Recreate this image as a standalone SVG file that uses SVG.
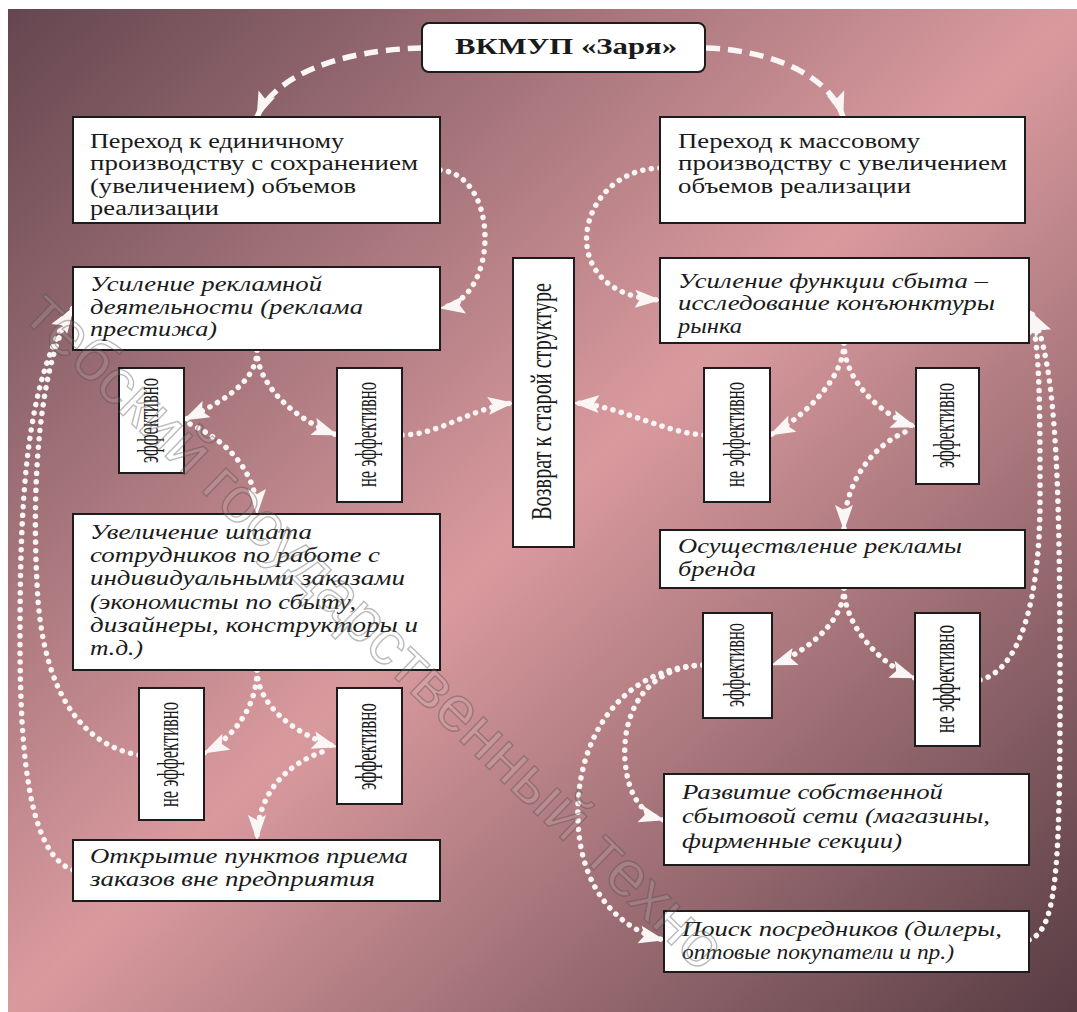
<svg xmlns="http://www.w3.org/2000/svg" width="1077" height="1012" viewBox="0 0 1077 1012">
<defs>
<linearGradient id="bg" x1="0" y1="0" x2="1" y2="1">
<stop offset="0" stop-color="#654650"/>
<stop offset="0.5" stop-color="#d99a9e"/>
<stop offset="1" stop-color="#583c44"/>
</linearGradient>
<marker id="ah" markerUnits="userSpaceOnUse" markerWidth="28" markerHeight="20" refX="25" refY="10" orient="auto" viewBox="0 0 28 20">
<path d="M0,1 L26,10 L0,19 L5,10 z" fill="#fbf6f6"/>
</marker>
<style>
.box{fill:#fff;stroke:#1c1c1c;stroke-width:2}
.t{font-family:"Liberation Serif","Times New Roman",serif;font-size:20px;fill:#1a1a1a}
.i{font-style:italic}
.b{font-weight:bold;font-size:24px}
.v{font-family:"Liberation Serif","Times New Roman",serif;font-size:30px;fill:#1a1a1a}
.dot{fill:none;stroke:#fbf6f6;stroke-width:5.5;stroke-linecap:round;stroke-dasharray:0.1 8.5;marker-end:url(#ah)}
.dash{fill:none;stroke:#fbf6f6;stroke-width:5.5;stroke-dasharray:14 8;marker-end:url(#ah)}
.wm{font-family:"Liberation Sans",Arial,sans-serif;font-size:64px;fill:#ffffff;fill-opacity:0.1;stroke:#4a4a4a;stroke-opacity:0.38;stroke-width:1.4}
</style>
</defs>
<rect x="0" y="0" width="1077" height="1012" fill="#fff"/>
<rect x="8" y="9" width="1069" height="1003" fill="url(#bg)"/>

<g id="connectors">
<path class="dash" d="M422,48 C340,50 275,75 257,117"/>
<path class="dash" d="M706,48 C770,50 830,75 843,117"/>
<path class="dot" d="M440,170 C500,175 500,300 440,308"/>
<path class="dot" d="M660,168 C575,170 550,295 660,300"/>
<path class="dot" d="M257,350 C257,385 215,405 184,420"/>
<path class="dot" d="M257,350 C257,385 295,420 337,435"/>
<path class="dot" d="M190,424 C225,440 257,470 257,514"/>
<path class="dot" d="M402,435 C440,435 470,408 513,403"/>
<path class="dot" d="M844,343 C844,380 800,420 770,435"/>
<path class="dot" d="M844,343 C844,380 880,415 916,427"/>
<path class="dot" d="M704,435 C660,432 620,405 574,403"/>
<path class="dot" d="M905,432 C875,445 844,480 844,530"/>
<path class="dot" d="M844,588 C844,625 800,655 772,665"/>
<path class="dot" d="M844,588 C844,625 880,665 915,678"/>
<path class="dot" d="M703,665 C640,668 622,720 625,760 C628,800 645,815 664,820"/>
<path class="dot" d="M703,665 C620,668 575,740 578,820 C580,890 620,930 664,940"/>
<path class="dot" d="M980,680 C1020,670 1040,600 1040,500 C1040,400 1040,340 1029,310"/>
<path class="dot" d="M1029,940 C1055,930 1060,880 1060,700 C1060,500 1058,360 1031,312"/>
<path class="dot" d="M139,755 C80,745 45,690 38,600 C30,480 40,360 73,308"/>
<path class="dot" d="M73,870 C30,855 20,760 20,640 C20,500 25,380 73,308"/>
<path class="dot" d="M257,670 C257,710 230,740 204,753"/>
<path class="dot" d="M257,670 C257,705 295,735 337,747"/>
<path class="dot" d="M322,752 C285,765 257,795 257,840"/>
</g>

<g id="n-top">
<rect class="box" x="422" y="23" width="283" height="49" rx="7"/>
<text class="t b" x="455" y="54" textLength="222" lengthAdjust="spacingAndGlyphs">ВКМУП «Заря»</text>
</g>

<g id="n-l1">
<rect class="box" x="73" y="117" width="367" height="106"/>
<text class="t" x="90" y="148" textLength="254" lengthAdjust="spacingAndGlyphs">Переход к единичному</text>
<text class="t" x="90" y="170.3" textLength="328" lengthAdjust="spacingAndGlyphs">производству с сохранением</text>
<text class="t" x="90" y="192.6" textLength="266" lengthAdjust="spacingAndGlyphs">(увеличением) объемов</text>
<text class="t" x="90" y="214.9" textLength="129" lengthAdjust="spacingAndGlyphs">реализации</text>
</g>

<g id="n-r1">
<rect class="box" x="660" y="117" width="365" height="106"/>
<text class="t" x="678" y="148" textLength="242" lengthAdjust="spacingAndGlyphs">Переход к массовому</text>
<text class="t" x="678" y="170.3" textLength="329" lengthAdjust="spacingAndGlyphs">производству с увеличением</text>
<text class="t" x="678" y="192.6" textLength="233" lengthAdjust="spacingAndGlyphs">объемов реализации</text>
</g>

<g id="n-l2">
<rect class="box" x="73" y="267" width="367" height="83"/>
<text class="t i" x="90" y="291" textLength="232" lengthAdjust="spacingAndGlyphs">Усиление рекламной</text>
<text class="t i" x="90" y="313.5" textLength="273" lengthAdjust="spacingAndGlyphs">деятельности (реклама</text>
<text class="t i" x="90" y="336" textLength="127" lengthAdjust="spacingAndGlyphs">престижа)</text>
</g>

<g id="n-r2">
<rect class="box" x="660" y="258" width="369" height="85"/>
<text class="t i" x="678" y="288" textLength="310" lengthAdjust="spacingAndGlyphs">Усиление функции сбыта –</text>
<text class="t i" x="678" y="310.3" textLength="317" lengthAdjust="spacingAndGlyphs">исследование конъюнктуры</text>
<text class="t i" x="678" y="332.6" textLength="64" lengthAdjust="spacingAndGlyphs">рынка</text>
</g>

<g id="n-center">
<rect class="box" x="513" y="258" width="61" height="289"/>
<text class="v" font-size="32" transform="translate(551,520) rotate(-90)" textLength="237" lengthAdjust="spacingAndGlyphs">Возврат к старой структуре</text>
</g>

<g id="n-le1">
<rect class="box" x="119" y="368" width="65" height="105"/>
<text class="v" transform="translate(158,463) rotate(-90)" textLength="85" lengthAdjust="spacingAndGlyphs">эффективно</text>
</g>
<g id="n-ln1">
<rect class="box" x="337" y="368" width="65" height="134"/>
<text class="v" transform="translate(376,487) rotate(-90)" textLength="105" lengthAdjust="spacingAndGlyphs">не эффективно</text>
</g>
<g id="n-rn1">
<rect class="box" x="704" y="368" width="66" height="134"/>
<text class="v" transform="translate(743.5,487) rotate(-90)" textLength="105" lengthAdjust="spacingAndGlyphs">не эффективно</text>
</g>
<g id="n-re1">
<rect class="box" x="916" y="368" width="63" height="116"/>
<text class="v" transform="translate(954,468) rotate(-90)" textLength="85" lengthAdjust="spacingAndGlyphs">эффективно</text>
</g>

<g id="n-l3">
<rect class="box" x="73" y="514" width="367" height="156"/>
<text class="t i" x="90" y="539" textLength="222" lengthAdjust="spacingAndGlyphs">Увеличение штата</text>
<text class="t i" x="90" y="562" textLength="290" lengthAdjust="spacingAndGlyphs">сотрудников по работе с</text>
<text class="t i" x="90" y="585" textLength="315" lengthAdjust="spacingAndGlyphs">индивидуальными заказами</text>
<text class="t i" x="90" y="609" textLength="266" lengthAdjust="spacingAndGlyphs">(экономисты по сбыту,</text>
<text class="t i" x="90" y="632" textLength="328" lengthAdjust="spacingAndGlyphs">дизайнеры, конструкторы и</text>
<text class="t i" x="90" y="655" textLength="53" lengthAdjust="spacingAndGlyphs">т.д.)</text>
</g>

<g id="n-r3">
<rect class="box" x="660" y="530" width="365" height="58"/>
<text class="t i" x="678" y="553" textLength="284" lengthAdjust="spacingAndGlyphs">Осуществление рекламы</text>
<text class="t i" x="678" y="575.5" textLength="78" lengthAdjust="spacingAndGlyphs">бренда</text>
</g>

<g id="n-re2">
<rect class="box" x="703" y="613" width="69" height="105"/>
<text class="v" transform="translate(744,707) rotate(-90)" textLength="84" lengthAdjust="spacingAndGlyphs">эффективно</text>
</g>
<g id="n-rn2">
<rect class="box" x="915" y="613" width="65" height="133"/>
<text class="v" transform="translate(954,733) rotate(-90)" textLength="108" lengthAdjust="spacingAndGlyphs">не эффективно</text>
</g>
<g id="n-ln2">
<rect class="box" x="139" y="688" width="65" height="132"/>
<text class="v" transform="translate(178,807) rotate(-90)" textLength="105" lengthAdjust="spacingAndGlyphs">не эффективно</text>
</g>
<g id="n-le2">
<rect class="box" x="337" y="688" width="65" height="116"/>
<text class="v" transform="translate(376,790) rotate(-90)" textLength="87" lengthAdjust="spacingAndGlyphs">эффективно</text>
</g>

<g id="n-r4">
<rect class="box" x="664" y="774" width="365" height="91"/>
<text class="t i" x="682" y="799" textLength="261" lengthAdjust="spacingAndGlyphs">Развитие собственной</text>
<text class="t i" x="682" y="823" textLength="308" lengthAdjust="spacingAndGlyphs">сбытовой сети (магазины,</text>
<text class="t i" x="682" y="848" textLength="220" lengthAdjust="spacingAndGlyphs">фирменные секции)</text>
</g>

<g id="n-l4">
<rect class="box" x="73" y="840" width="367" height="61"/>
<text class="t i" x="90" y="863" textLength="318" lengthAdjust="spacingAndGlyphs">Открытие пунктов приема</text>
<text class="t i" x="90" y="885.5" textLength="285" lengthAdjust="spacingAndGlyphs">заказов вне предприятия</text>
</g>

<g id="n-r5">
<rect class="box" x="664" y="911" width="365" height="61"/>
<text class="t i" x="682" y="936" textLength="320" lengthAdjust="spacingAndGlyphs">Поиск посредников (дилеры,</text>
<text class="t i" x="682" y="959" textLength="272" lengthAdjust="spacingAndGlyphs">оптовые покупатели и пр.)</text>
</g>

<g id="watermark" transform="translate(-36,262) rotate(44)">
<text class="wm" x="80">тебский</text>
<text class="wm" x="327">государственный</text>
<text class="wm" x="858">техно</text>
</g>
</svg>
